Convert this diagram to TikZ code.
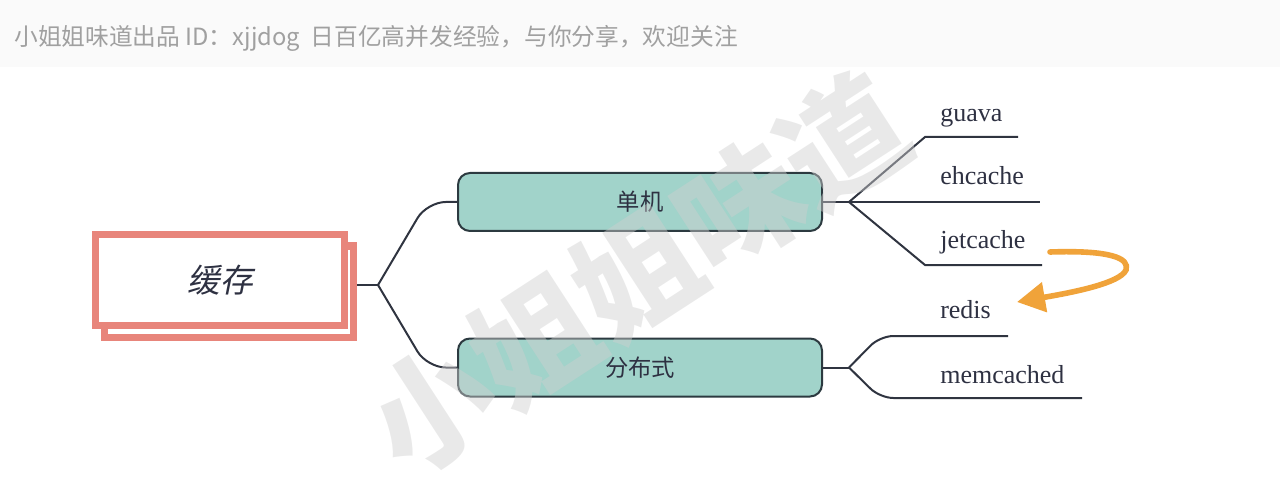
\documentclass[tikz,border=0pt]{standalone}
\usepackage{fontspec}
\setmainfont{Liberation Serif}
\newfontfamily\cjk{Noto Sans CJK SC}
\newfontfamily\cjkit[FakeSlant=0.2]{Noto Sans CJK SC}
\usetikzlibrary{arrows.meta}
\definecolor{salmon}{HTML}{E8857B}
\definecolor{boxteal}{HTML}{A1D3CA}
\definecolor{boxborder}{HTML}{2C3A40}
\definecolor{linecol}{HTML}{2F3440}
\definecolor{textcol}{HTML}{2E3142}
\definecolor{headbg}{HTML}{FAFAFA}
\definecolor{headtext}{HTML}{A0A0A0}
\definecolor{arrowcol}{HTML}{F0A33A}
\definecolor{wmcol}{HTML}{CFCFCF}
\begin{document}
\begin{tikzpicture}[x=0.75pt,y=-0.75pt,
  line/.style={draw=linecol, line width=1.5pt},
  rootrect/.style={draw=salmon, line width=5.25pt, fill=white, minimum width=186.75pt, minimum height=68.25pt, inner sep=0pt},
  midbox/.style={draw=boxborder, line width=1.5pt, fill=boxteal, rounded corners=9pt, minimum width=273pt, minimum height=43.5pt, inner sep=0pt, font=\cjk\fontsize{17.5}{20}\selectfont, text=textcol},
  leaf/.style={anchor=base west, font=\fontsize{19.5}{22}\selectfont, text=textcol, inner sep=0pt},
  ]
\useasboundingbox (0,0) rectangle (1280,488);
\fill[headbg] (0,0) rectangle (1280,67);
\node[anchor=west, text=headtext, font=\cjk\fontsize{17.8}{20}\selectfont, inner sep=0pt] (header) at (14,38) {小姐姐味道出品 ID：xjjdog\ \ 日百亿高并发经验，与你分享，欢迎关注};

% root
\node[rootrect] (rootback) at (229,291.5) {};
\node[rootrect, font=\cjkit\fontsize{24.5}{28}\selectfont, text=textcol] (root) at (220,280) {缓存};

% middle
\node[midbox] (single) at (640,202) {单机};
\node[midbox] (dist) at (640,367.5) {分布式};

\coordinate (rootport) at (357,285);
\coordinate (fork) at (378,285);
\draw[line] (rootport) -- (fork);
\draw[line, rounded corners=14pt] (fork) -- ([xshift=-22.5pt]single.west) -- (single.west);
\draw[line, rounded corners=14pt] (fork) -- ([xshift=-22.5pt]dist.west) -- (dist.west);

% leaves of single
\coordinate (sfork) at ([xshift=19.5pt]single.east);
\draw[line] (single.east) -- (sfork);
\node[leaf] (guava) at (940,122) {guava};
\node[leaf] (ehcache) at (940,185) {ehcache};
\node[leaf] (jetcache) at (940,248) {jetcache};
\coordinate (gu1) at (925,137); \coordinate (gu2) at (1018,137);
\coordinate (eh2) at (1040,202);
\coordinate (je1) at (925,265); \coordinate (je2) at (1042,265);
\draw[line] (sfork) -- (gu1) -- (gu2);
\draw[line] (sfork) -- (eh2);
\draw[line] (sfork) -- (je1) -- (je2);

% leaves of dist
\coordinate (dfork) at ([xshift=19.5pt]dist.east);
\draw[line] (dist.east) -- (dfork);
\node[leaf] (redis) at (940,318) {redis};
\node[leaf] (memcached) at (940,383) {memcached};
\coordinate (re1) at (880,336); \coordinate (re2) at (1008,336);
\coordinate (me1) at (880,398); \coordinate (me2) at (1082,398);
\draw[line, rounded corners=10pt] (dfork) -- (re1) -- (re2);
\draw[line, rounded corners=10pt] (dfork) -- (me1) -- (me2);

% orange arrow
\coordinate (ao) at (1050,252);
\coordinate (ai) at (1017,302);
\draw[arrowcol, line width=4.2pt, line cap=round, -{Triangle[length=21pt,width=22pt]}]
  (ao) .. controls (1110,250) and (1130,258) .. (1126,270)
  .. controls (1120,283) and (1075,292) .. (ai);

% watermark
\node[rotate=33, text=wmcol, opacity=0.45, font=\cjk\bfseries\fontsize{92}{92}\selectfont, inner sep=0pt] (wm) at (637,274) {小姐姐味道};
\end{tikzpicture}
\end{document}
